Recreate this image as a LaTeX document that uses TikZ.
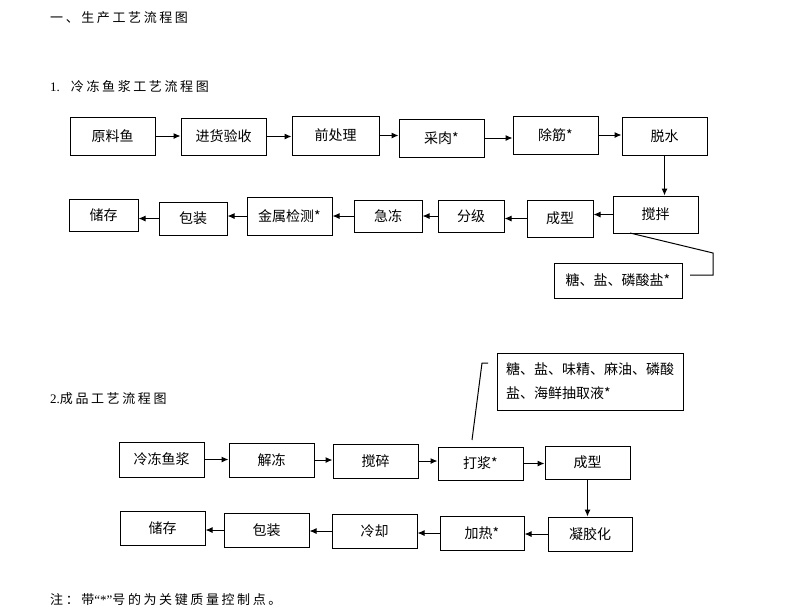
\documentclass[tikz,border=0pt]{standalone}
\usepackage{fontspec}
\setmainfont{Liberation Serif}
\newfontfamily\cjk{Noto Sans CJK SC}
\newfontfamily\cjkhead[LetterSpace=20]{Noto Sans CJK SC}
\usetikzlibrary{arrows.meta}
\tikzset{>={Latex[width=6pt,length=7pt]}}

\begin{document}
\begin{tikzpicture}[
    x = 1pt, y = -1pt,
    box/.style = {draw, line width=1pt, inner sep=0pt,
        font=\cjk\fontsize{14}{16}\selectfont},
    title/.style = {anchor=west, inner sep=0pt,
        font=\cjkhead\fontsize{13}{15}\selectfont},
    link/.style = {line width=1pt}
  ]
  \useasboundingbox (0,0) rectangle (789,614);

  % headings
  \node[title] (head) at (50,18) {一、生产工艺流程图};
  \node[title] (headA) at (50,87) {{\rmfamily 1.}\ \ 冷冻鱼浆工艺流程图};
  \node[title] (headB) at (50,399) {{\rmfamily 2.}成品工艺流程图};
  \node[title] (note) at (50,600) {注：带{\rmfamily “*”}号的为关键质量控制点。};

  % 1. frozen paste
  \foreach \nm/\cx/\cy/\w/\h/\txt in {
      raw/112.5/136/85/38/原料鱼, check/223.5/136.5/85/37/进货验收,
      pre/335.5/135.5/87/39/前处理, meat/441.5/138/85/38/采肉*,
      tendon/555.5/135/85/38/除筋*, dewater/664.5/136/85/38/脱水,
      mix/655.5/214.5/85/37/搅拌, shape/560/218.5/66/37/成型,
      grade/471/216/66/32/分级, freeze/388/216/68/32/急冻,
      metal/289.5/216/85/38/金属检测*, pack/193/218.5/68/33/包装,
      store/103.5/215/69/32/储存, salt/618/280.5/128/35/糖、盐、磷酸盐*}
  \node[box, minimum width=\w, minimum height=\h] (\nm) at (\cx,\cy) {\txt};

  \foreach \a/\b in {raw/check, check/pre, pre/meat, meat/tendon, tendon/dewater}
  \draw[link, ->] (\a.east) -- (\a.east -| \b.west);
  \draw[link, ->] (dewater.south) -- (dewater.south |- mix.north);
  \foreach \a/\b in {mix/shape, shape/grade, grade/freeze, freeze/metal, metal/pack, pack/store}
  \draw[link, ->] (\a.west) -- (\a.west -| \b.east);

  \coordinate (mixfoot) at (630,233);
  \coordinate (saltbend) at (713,253);
  \coordinate (saltcorner) at (713,275);
  \coordinate (saltend) at (690,275);
  \draw[link] (mixfoot) -- (saltbend) -- (saltcorner) -- (saltend);

  % 2. finished product
  \foreach \nm/\cx/\cy/\w/\h/\txt in {
      paste/161.5/459.5/85/35/冷冻鱼浆, thaw/271.5/460/85/34/解冻,
      mince/375.5/461/85/34/搅碎, beat/480.5/463.5/85/33/打浆*,
      form/587.5/462.5/85/33/成型, gel/590/534/84/34/凝胶化,
      heat/482/533/84/34/加热*, cool/374.5/531/85/34/冷却,
      wrap/266.5/530/85/34/包装, keep/162.5/528/85/34/储存}
  \node[box, minimum width=\w, minimum height=\h] (\nm) at (\cx,\cy) {\txt};

  \node[box, minimum width=186, minimum height=57, align=left,
    font=\cjk\fontsize{14}{24}\selectfont] (season) at (590,381.5)
    {糖、盐、味精、麻油、磷酸\\盐、海鲜抽取液*};

  \foreach \a/\b in {paste/thaw, thaw/mince, mince/beat, beat/form}
  \draw[link, ->] (\a.east) -- (\a.east -| \b.west);
  \draw[link, ->] (form.south) -- (form.south |- gel.north);
  \foreach \a/\b in {gel/heat, heat/cool, cool/wrap, wrap/keep}
  \draw[link, ->] (\a.west) -- (\a.west -| \b.east);

  \coordinate (beattop) at (472,440);
  \coordinate (seasonbend) at (482,363);
  \coordinate (seasonend) at (488,363);
  \draw[link] (beattop) -- (seasonbend) -- (seasonend);
\end{tikzpicture}
\end{document}
